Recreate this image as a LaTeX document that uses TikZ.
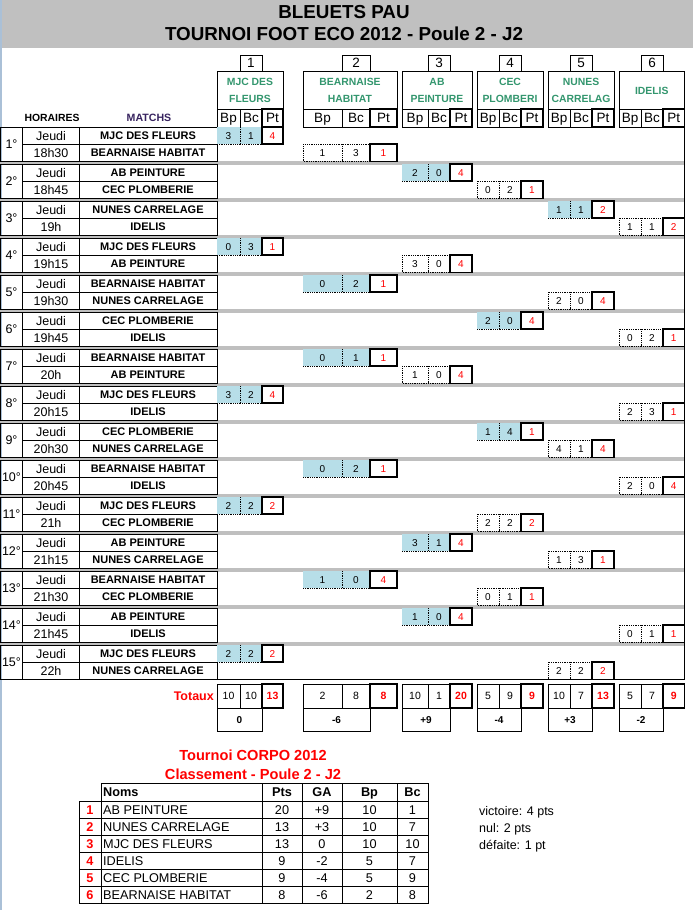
\documentclass[tikz,border=0pt]{standalone}
\usepackage{fontspec}
\setmainfont{Liberation Sans}

\definecolor{headgray}{RGB}{192,192,192}
\definecolor{sepgray}{RGB}{191,191,191}
\definecolor{homeblue}{RGB}{183,222,232}
\definecolor{teamgreen}{RGB}{51,150,110}
\definecolor{ptred}{RGB}{255,0,0}
\definecolor{matchpurple}{RGB}{55,35,95}
\definecolor{edgeblue}{RGB}{170,192,215}

\tikzset{
  thinbox/.style={draw, line width=0.8pt},
  ptbox/.style={draw, line width=1.8pt},
  dotline/.style={densely dotted, line width=0.8pt},
  cellnum/.style={inner sep=0pt, text height=7.2pt, text depth=0pt, font=\fontsize{10}{12}\selectfont},
  ptnum/.style={cellnum, text=ptred},
  headcell/.style={inner sep=0pt, text height=9.6pt, text depth=0pt, font=\fontsize{13.5}{15}\selectfont},
  teamhead/.style={inner sep=0pt, align=center, text=teamgreen, font=\bfseries\fontsize{10.4}{17}\selectfont},
  matchteam/.style={inner sep=0pt, text height=7.9pt, text depth=0pt, font=\bfseries\fontsize{11}{13}\selectfont},
  timetext/.style={inner sep=0pt, text height=9pt, text depth=0pt, font=\fontsize{12.5}{14}\selectfont},
  ranktext/.style={inner sep=0pt, text height=9.1pt, text depth=0pt, font=\fontsize{12.7}{15}\selectfont},
  redtitle/.style={inner sep=0pt, text=ptred, font=\bfseries\fontsize{14.6}{17}\selectfont},
}

\newcommand\teamname[1]{\ifcase#1\or MJC DES FLEURS\or BEARNAISE HABITAT\or AB PEINTURE\or CEC PLOMBERIE\or NUNES CARRELAGE\or IDELIS\fi}
\def\colA{{217,303,402,477,548,619}}
\def\colB{{240,342,428,499,570,641}}
\def\colC{{262,370,450,521,592,663}}
\def\colD{{283,397,472,543,614,684.5}}
\newcommand\colx[1]{%
  \pgfmathsetmacro\xa{\colA[#1-1]}%
  \pgfmathsetmacro\xb{\colB[#1-1]}%
  \pgfmathsetmacro\xc{\colC[#1-1]}%
  \pgfmathsetmacro\xd{\colD[#1-1]}}

% column head: number, team name, Bp Bc Pt
\newcommand\colhead[2]{%
  \colx{#1}
  \draw[thinbox] (\xb,55) rectangle (\xc,71);
  \node[headcell] (num#1) at ({(\xb+\xc)/2},63) {#1};
  \draw[thinbox] (\xa,71) rectangle (\xd,109);
  \node[teamhead] (team#1) at ({(\xa+\xd)/2},90.5) {#2};
  \draw[thinbox] (\xa,109) rectangle (\xd,127) (\xb,109) -- (\xb,127);
  \draw[ptbox] (\xc,109) rectangle (\xd,127);
  \node[headcell] (bp#1) at ({(\xa+\xb)/2},118) {Bp};
  \node[headcell] (bc#1) at ({(\xb+\xc)/2},118) {Bc};
  \node[headcell] (pt#1) at ({(\xc+\xd)/2},118) {Pt};}

% match block: number, time, home team, away team
\newcommand\matchrow[4]{%
  \pgfmathsetmacro\ytop{127+37*(#1-1)}
  \pgfmathsetmacro\ymid{\ytop+17.25}
  \pgfmathsetmacro\ybot{\ytop+34.5}
  \ifnum#1<15 \fill[sepgray] (0,\ybot-0.5) rectangle (684.5,\ybot+3);\fi
  \draw[thinbox] (0.5,\ytop) rectangle (217,\ybot);
  \draw[thinbox] (22.5,\ytop) -- (22.5,\ybot) (79,\ytop) -- (79,\ybot) (22.5,\ymid) -- (217,\ymid);
  \node[timetext] (n#1) at (11.5,\ymid) {#1°};
  \node[timetext] (d#1) at (51,\ytop+8.6) {Jeudi};
  \node[timetext] (t#1) at (51,\ymid+8.6) {#2};
  \node[matchteam] (h#1) at (148,\ytop+8.6) {\teamname{#3}};
  \node[matchteam] (a#1) at (148,\ymid+8.6) {\teamname{#4}};}

% score cells of the first team of a match
\newcommand\homecells[5]{%
  \colx{#2}
  \pgfmathsetmacro\yc{127+37*(#1-1)}
  \fill[homeblue] (\xa,\yc+0.4) rectangle (\xc,\yc+17.25);
  \draw[dotline] (\xa,\yc+17.25) -- (\xc,\yc+17.25) (\xb,\yc) -- (\xb,\yc+17.25);
  \draw[ptbox] (\xc,\yc) rectangle (\xd,\yc+17.25);
  \node[cellnum] (h#1bp) at ({(\xa+\xb)/2},\yc+8.6) {#3};
  \node[cellnum] (h#1bc) at ({(\xb+\xc)/2},\yc+8.6) {#4};
  \node[ptnum] (h#1pt) at ({(\xc+\xd)/2},\yc+8.6) {#5};}

% score cells of the second team
\newcommand\awaycells[5]{%
  \colx{#2}
  \pgfmathsetmacro\yc{127+37*(#1-1)+17.25}
  \draw[dotline] (\xa,\yc) rectangle (\xc,\yc+17.25) (\xb,\yc) -- (\xb,\yc+17.25);
  \draw[ptbox] (\xc,\yc) rectangle (\xd,\yc+17.25);
  \node[cellnum] (a#1bp) at ({(\xa+\xb)/2},\yc+8.6) {#3};
  \node[cellnum] (a#1bc) at ({(\xb+\xc)/2},\yc+8.6) {#4};
  \node[ptnum] (a#1pt) at ({(\xc+\xd)/2},\yc+8.6) {#5};}

% totals under a column
\newcommand\coltotal[5]{%
  \colx{#1}
  \draw[thinbox] (\xa,684) rectangle (\xc,708) (\xb,684) -- (\xb,708) (\xa,708) rectangle (\xc,731);
  \draw[ptbox] (\xc,684) rectangle (\xd,708);
  \node[cellnum, font=\fontsize{10.5}{12}\selectfont] (tbp#1) at ({(\xa+\xb)/2},696) {#2};
  \node[cellnum, font=\fontsize{10.5}{12}\selectfont] (tbc#1) at ({(\xb+\xc)/2},696) {#3};
  \node[ptnum, font=\bfseries\fontsize{10.5}{12}\selectfont] (tpt#1) at ({(\xc+\xd)/2},696) {#4};
  \node[cellnum, font=\bfseries\fontsize{10}{12}\selectfont] (ga#1) at ({(\xa+\xc)/2},719.5) {#5};}

% row of the ranking table
\newcommand\rankrow[6]{%
  \pgfmathsetmacro\yr{801+17*(#1-1)}
  \draw[thinbox] (79,\yr) rectangle (428,\yr+17);
  \node[ranktext, text=ptred, font=\bfseries\fontsize{12.7}{15}\selectfont] (r#1) at (90,\yr+8.5) {#1};
  \node[ranktext, anchor=west] (rn#1) at (103,\yr+8.5) {#2};
  \node[ranktext] (rp#1) at (282,\yr+8.5) {#3};
  \node[ranktext] (rg#1) at (322,\yr+8.5) {#4};
  \node[ranktext] (rb#1) at (369.5,\yr+8.5) {#5};
  \node[ranktext] (rc#1) at (412.5,\yr+8.5) {#6};}

\begin{document}
\begin{tikzpicture}[x=1pt,y=-1pt]
  \useasboundingbox (0,0) rectangle (693,910);
  \fill[white] (0,0) rectangle (693,910);
  \fill[headgray] (0,0) rectangle (693,48);
  \draw[edgeblue, line width=1.5pt] (0.75,0) -- (0.75,910);
  \node[inner sep=0pt, font=\bfseries\fontsize{18.8}{20}\selectfont] (title1) at (344,12) {BLEUETS PAU};
  \node[inner sep=0pt, font=\bfseries\fontsize{18.8}{20}\selectfont] (title2) at (344,34) {TOURNOI FOOT ECO 2012 - Poule 2 - J2};

  \colhead{1}{MJC DES\\FLEURS}
  \colhead{2}{BEARNAISE\\HABITAT}
  \colhead{3}{AB\\PEINTURE}
  \colhead{4}{CEC\\PLOMBERI}
  \colhead{5}{NUNES\\CARRELAG}
  \colhead{6}{IDELIS}
  \node[inner sep=0pt, font=\bfseries\fontsize{10.4}{12}\selectfont] (horaires) at (52,118) {HORAIRES};
  \node[inner sep=0pt, text=matchpurple, font=\bfseries\fontsize{10.6}{12}\selectfont] (matchs) at (149,118) {MATCHS};

  \matchrow{1}{18h30}{1}{2}
  \matchrow{2}{18h45}{3}{4}
  \matchrow{3}{19h}{5}{6}
  \matchrow{4}{19h15}{1}{3}
  \matchrow{5}{19h30}{2}{5}
  \matchrow{6}{19h45}{4}{6}
  \matchrow{7}{20h}{2}{3}
  \matchrow{8}{20h15}{1}{6}
  \matchrow{9}{20h30}{4}{5}
  \matchrow{10}{20h45}{2}{6}
  \matchrow{11}{21h}{1}{4}
  \matchrow{12}{21h15}{3}{5}
  \matchrow{13}{21h30}{2}{4}
  \matchrow{14}{21h45}{3}{6}
  \matchrow{15}{22h}{1}{5}
  \draw[thinbox] (684.5,127) -- (684.5,679.5) (0.5,679.5) -- (684.5,679.5);

  \homecells{1}{1}{3}{1}{4}    \awaycells{1}{2}{1}{3}{1}
  \homecells{2}{3}{2}{0}{4}    \awaycells{2}{4}{0}{2}{1}
  \homecells{3}{5}{1}{1}{2}    \awaycells{3}{6}{1}{1}{2}
  \homecells{4}{1}{0}{3}{1}    \awaycells{4}{3}{3}{0}{4}
  \homecells{5}{2}{0}{2}{1}    \awaycells{5}{5}{2}{0}{4}
  \homecells{6}{4}{2}{0}{4}    \awaycells{6}{6}{0}{2}{1}
  \homecells{7}{2}{0}{1}{1}    \awaycells{7}{3}{1}{0}{4}
  \homecells{8}{1}{3}{2}{4}    \awaycells{8}{6}{2}{3}{1}
  \homecells{9}{4}{1}{4}{1}    \awaycells{9}{5}{4}{1}{4}
  \homecells{10}{2}{0}{2}{1}   \awaycells{10}{6}{2}{0}{4}
  \homecells{11}{1}{2}{2}{2}   \awaycells{11}{4}{2}{2}{2}
  \homecells{12}{3}{3}{1}{4}   \awaycells{12}{5}{1}{3}{1}
  \homecells{13}{2}{1}{0}{4}   \awaycells{13}{4}{0}{1}{1}
  \homecells{14}{3}{1}{0}{4}   \awaycells{14}{6}{0}{1}{1}
  \homecells{15}{1}{2}{2}{2}   \awaycells{15}{5}{2}{2}{2}

  \node[inner sep=0pt, anchor=east, text=ptred, font=\bfseries\fontsize{12.5}{14}\selectfont] (totaux) at (214,696) {Totaux};
  \coltotal{1}{10}{10}{13}{0}
  \coltotal{2}{2}{8}{8}{-6}
  \coltotal{3}{10}{1}{20}{+9}
  \coltotal{4}{5}{9}{9}{-4}
  \coltotal{5}{10}{7}{13}{+3}
  \coltotal{6}{5}{7}{9}{-2}

  % ranking
  \node[redtitle] (corpo) at (253,755) {Tournoi CORPO 2012};
  \node[redtitle] (classement) at (253,774) {Classement - Poule 2 - J2};
  \draw[thinbox] (101,783) rectangle (428,801);
  \node[ranktext, anchor=west, font=\bfseries\fontsize{12.7}{15}\selectfont] (noms) at (103,792) {Noms};
  \node[ranktext, font=\bfseries\fontsize{12.7}{15}\selectfont] (pts) at (282,792) {Pts};
  \node[ranktext, font=\bfseries\fontsize{12.7}{15}\selectfont] (ga) at (322,792) {GA};
  \node[ranktext, font=\bfseries\fontsize{12.7}{15}\selectfont] (bp) at (369.5,792) {Bp};
  \node[ranktext, font=\bfseries\fontsize{12.7}{15}\selectfont] (bc) at (412.5,792) {Bc};
  \rankrow{1}{AB PEINTURE}{20}{+9}{10}{1}
  \rankrow{2}{NUNES CARRELAGE}{13}{+3}{10}{7}
  \rankrow{3}{MJC DES FLEURS}{13}{0}{10}{10}
  \rankrow{4}{IDELIS}{9}{-2}{5}{7}
  \rankrow{5}{CEC PLOMBERIE}{9}{-4}{5}{9}
  \rankrow{6}{BEARNAISE HABITAT}{8}{-6}{2}{8}
  \draw[thinbox] (101,783) -- (101,903) (262,783) -- (262,903) (302,783) -- (302,903)
    (342,783) -- (342,903) (397,783) -- (397,903);

  \node[ranktext, anchor=west, font=\fontsize{12.5}{15}\selectfont] (victoire) at (479,811) {victoire: 4 pts};
  \node[ranktext, anchor=west, font=\fontsize{12.5}{15}\selectfont] (nul) at (479,828) {nul: 2 pts};
  \node[ranktext, anchor=west, font=\fontsize{12.5}{15}\selectfont] (defaite) at (479,845) {défaite: 1 pt};
\end{tikzpicture}
\end{document}
